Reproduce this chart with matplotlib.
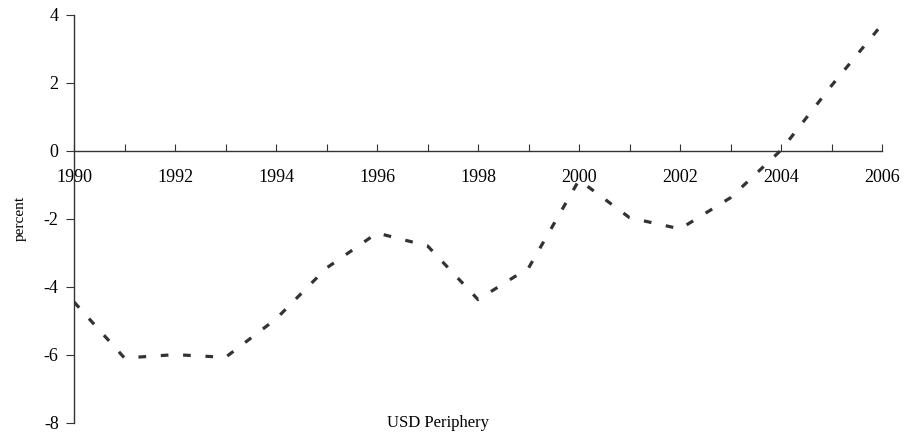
import numpy as np
import matplotlib
matplotlib.use('Agg')
import matplotlib.pyplot as plt

plt.rcParams['font.family'] = ['Liberation Serif', 'DejaVu Serif']
plt.rcParams['axes.unicode_minus'] = False

years = np.arange(1990, 2007)
usd_periphery = [-4.45, -6.1, -6.0, -6.08, -4.95, -3.45, -2.42, -2.8, -4.38,
                 -3.45, -0.86, -1.97, -2.3, -1.38, 0.02, 1.92, 3.72]
series_name = 'USD Periphery'

fig = plt.figure(figsize=(9.16, 4.37), dpi=100)
ax = fig.add_axes([0.0808, 0.033, 0.8822, 0.933])

ax.plot(years, usd_periphery, color='#333333', lw=2.3,
        dashes=(2.4, 4.6), dash_capstyle='butt', solid_joinstyle='round')

ax.set_xlim(1990, 2006)
ax.set_ylim(-8, 4)
ax.set_yticks([-8, -6, -4, -2, 0, 2, 4])
ax.set_xticks(years)
ax.set_xticklabels([str(y) if y % 2 == 0 else '' for y in years])

ax.spines['top'].set_visible(False)
ax.spines['right'].set_visible(False)
ax.spines['bottom'].set_position(('data', 0))
for s in ('left', 'bottom'):
    ax.spines[s].set_color('#333333')
    ax.spines[s].set_linewidth(1.0)

ax.tick_params(axis='x', direction='in', length=5, color='#333333',
               labelsize=13, pad=13)
ax.tick_params(axis='y', direction='out', length=6, color='#333333',
               labelsize=13, pad=5)

ax.set_ylabel('percent', fontsize=11)
ax.yaxis.set_label_coords(-0.059, 0.5)

fig.text(0.478, 0.032, series_name, fontsize=12, ha='center', va='center')

fig.savefig('out.png', dpi=100)
